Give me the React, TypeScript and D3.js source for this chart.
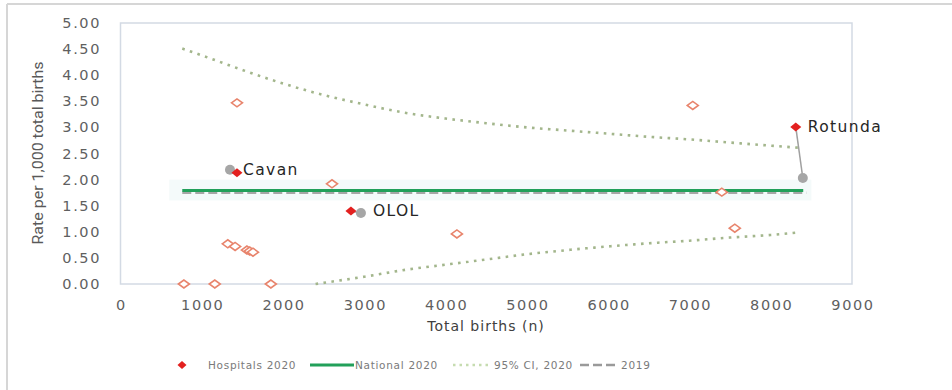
import React from "react";
import * as d3 from "d3";

const yTicks = [0, 0.5, 1, 1.5, 2, 2.5, 3, 3.5, 4, 4.5, 5];
const xTicks = [0, 1000, 2000, 3000, 4000, 5000, 6000, 7000, 8000, 9000];

const hospitalsX = [780, 1160, 1850, 1320, 1410, 1555, 1590, 1630, 1433, 2602, 4139, 7041, 7398, 7558];
const hospitalsY = [0, 0, 0, 0.77, 0.72, 0.65, 0.63, 0.61, 3.47, 1.92, 0.96, 3.42, 1.76, 1.07];

const labelNames = ["Cavan", "OLOL", "Rotunda"];
const label2020X = [1433, 2835, 8308];
const label2020Y = [2.13, 1.4, 3.01];
const label2019X = [1347, 2958, 8395];
const label2019Y = [2.19, 1.36, 2.03];

const nationalX = [760, 8400];
const national2020 = 1.79;
const national2019 = 1.75;

const upperCI: [number, number][] = [
  [760, 4.51], [1000, 4.38], [1500, 4.1], [2000, 3.84], [2500, 3.62], [3000, 3.44],
  [3500, 3.28], [4000, 3.17], [4500, 3.08], [5000, 3.0], [5500, 2.94], [6000, 2.88],
  [6500, 2.82], [7000, 2.77], [7500, 2.71], [8000, 2.65], [8350, 2.61],
];
const lowerCI: [number, number][] = [
  [2400, 0], [3000, 0.14], [3500, 0.27], [4000, 0.37], [4500, 0.47], [5000, 0.57],
  [5500, 0.65], [6000, 0.72], [6500, 0.78], [7000, 0.83], [7500, 0.89], [8000, 0.94], [8350, 0.99],
];

const legendItems = ["Hospitals 2020", "National 2020", "95% CI, 2020", "2019"];

const W = 952;
const H = 390;

export default function App() {
  const x = d3.scaleLinear().domain([0, 9000]).range([120.5, 852]);
  const y = d3.scaleLinear().domain([0, 5]).range([284, 23]);
  const line = d3.line<[number, number]>().x((d) => x(d[0])).y((d) => y(d[1])).curve(d3.curveMonotoneX);
  const diamond = (cx: number, cy: number, w: number, h: number) =>
    `M${cx - w / 2},${cy}L${cx},${cy - h / 2}L${cx + w / 2},${cy}L${cx},${cy + h / 2}Z`;

  const tickFont = { fontFamily: "DejaVu Sans", fontSize: 14.5, fill: "#5f5f5f", letterSpacing: 1.6 };
  const ciColor = "#a3b68c";
  const green = "#22a05a";
  const grey2019 = "#a6a6a6";
  const hollow = "#e8846c";
  const red = "#e3201f";
  const labelAnchor = [
    (x1: number, x2: number) => Math.max(x1, x2) + 6,
    (x1: number, x2: number) => Math.max(x1, x2) + 12,
    (x1: number, _x2: number) => x1 + 12,
  ];

  return (
    <svg width={W} height={H} style={{ position: "absolute", left: 0, top: 0, background: "#fff" }}>
      <line x1={7} y1={4} x2={W} y2={4} stroke="#d6d6d6" strokeWidth={2} />
      <line x1={7} y1={4} x2={7} y2={H} stroke="#d6d6d6" strokeWidth={2} />

      <rect x={x(0)} y={y(5)} width={x(9000) - x(0)} height={y(0) - y(5)} fill="none" stroke="#d3dae4" strokeWidth={1.5} />
      <rect x={x(600)} y={y(2.0)} width={x(8500) - x(600)} height={y(1.6) - y(2.0)} fill="#f4fafa" />

      {yTicks.map((t) => (
        <text key={"y" + t} x={101} y={y(t) + 5} textAnchor="end" {...tickFont}>
          {t.toFixed(2)}
        </text>
      ))}
      {xTicks.map((t) => (
        <text key={"x" + t} x={x(t) + 1} y={310} textAnchor="middle" {...tickFont}>
          {t}
        </text>
      ))}

      <text
        transform={`translate(43,${153}) rotate(-90)`}
        textAnchor="middle"
        fontFamily="Roboto"
        fontSize={15}
        fill="#595959"
        textLength={183}
        lengthAdjust="spacingAndGlyphs"
      >
        Rate per 1,000 total births
      </text>
      <text x={486} y={331} textAnchor="middle" fontFamily="DejaVu Sans" fontSize={14} fill="#404040" letterSpacing={1}>
        Total births (n)
      </text>

      <path d={line(upperCI) || ""} fill="none" stroke={ciColor} strokeWidth={2.6} strokeDasharray="2.6,5.4" />
      <path d={line(lowerCI) || ""} fill="none" stroke={ciColor} strokeWidth={2.6} strokeDasharray="2.6,5.4" />

      <line x1={x(nationalX[0])} x2={x(8440)} y1={y(national2019)} y2={y(national2019)} stroke={grey2019} strokeWidth={2.5} strokeDasharray="9,4" />
      <line x1={x(nationalX[0])} x2={x(nationalX[1])} y1={y(national2020)} y2={y(national2020)} stroke={green} strokeWidth={3} />

      {hospitalsX.map((hx, i) => (
        <path key={"h" + i} d={diamond(x(hx), y(hospitalsY[i]), 11, 8)} fill="#fff" stroke={hollow} strokeWidth={1.6} />
      ))}

      {labelNames.map((name, i) => {
        const x1 = x(label2020X[i]);
        const y1 = y(label2020Y[i]);
        const x2 = x(label2019X[i]);
        const y2 = y(label2019Y[i]);
        return (
          <g key={name}>
            <line x1={x1} y1={y1} x2={x2} y2={y2} stroke="#a0a0a0" strokeWidth={1.5} />
            <circle cx={x2} cy={y2} r={5} fill="#a6a6a6" />
            <path d={diamond(x1, y1, 11, 9)} fill={red} />
            <text x={labelAnchor[i](x1, x2)} y={Math.min(y1, y2) + 5} fontFamily="DejaVu Sans" fontSize={15.5} fill="#262626" letterSpacing={1.4}>
              {name}
            </text>
          </g>
        );
      })}

      <g fontFamily="DejaVu Sans" fontSize={10.5} fill="#7a7a7a" letterSpacing={0.7}>
        <path d={diamond(182, 365, 9, 8)} fill={red} />
        <text x={208} y={369}>{legendItems[0]}</text>
        <line x1={310} x2={354} y1={365} y2={365} stroke={green} strokeWidth={3} />
        <text x={355} y={369}>{legendItems[1]}</text>
        <line x1={453} x2={490} y1={365} y2={365} stroke="#c6dcb0" strokeWidth={2.5} strokeDasharray="2.5,4" />
        <text x={494} y={369}>{legendItems[2]}</text>
        <line x1={580} x2={617} y1={365} y2={365} stroke="#9a9a9a" strokeWidth={2.5} strokeDasharray="9,4" />
        <text x={621} y={369}>{legendItems[3]}</text>
      </g>
    </svg>
  );
}
